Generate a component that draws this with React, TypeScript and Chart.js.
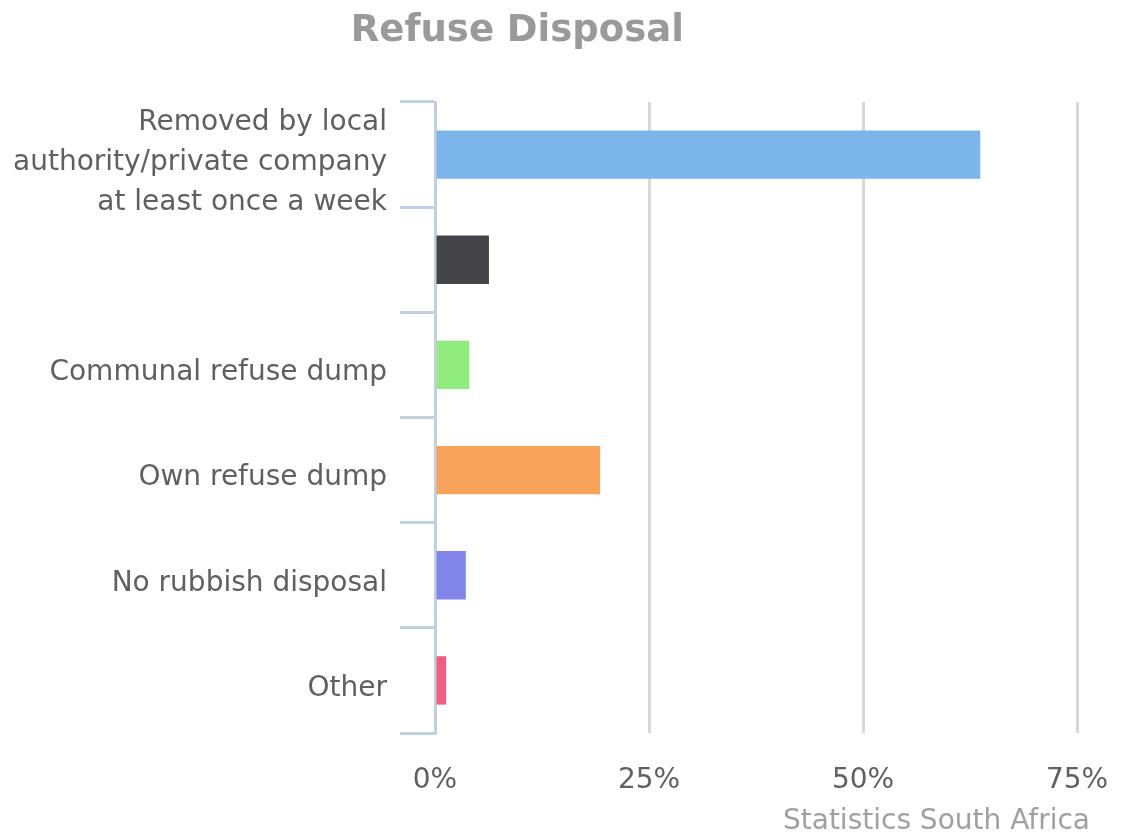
import React, { useEffect, useRef } from "react";
import { Chart, registerables } from "chart.js";

Chart.register(...registerables);

const categories: (string | string[])[] = [
  ["Removed by local", "authority/private company", "at least once a week"],
  "",
  "Communal refuse dump",
  "Own refuse dump",
  "No rubbish disposal",
  "Other",
];
const values = [63.7, 6.3, 4.0, 19.3, 3.6, 1.3];
const barColors = ["#7cb5ec", "#434348", "#90ed7d", "#f7a35c", "#8085e9", "#f15c80"];
const xTicks = [0, 25, 50, 75];
const titleText = "Refuse Disposal";
const creditText = "Statistics South Africa";

const FONT = "'DejaVu Sans', Verdana, sans-serif";

const textPlugin = {
  id: "textPlugin",
  afterDraw(chart: any) {
    const ctx = chart.ctx;
    ctx.save();
    ctx.fillStyle = "#9a9a9a";
    ctx.font = `bold 37px ${FONT}`;
    ctx.textAlign = "center";
    ctx.textBaseline = "middle";
    ctx.fillText(titleText, chart.width * 0.4615, 31);
    ctx.font = `28px ${FONT}`;
    ctx.fillStyle = "#a0a0a0";
    ctx.textAlign = "right";
    ctx.fillText(creditText, 1090, 822);
    ctx.restore();
  },
};

export default function App() {
  const ref = useRef<HTMLCanvasElement | null>(null);
  useEffect(() => {
    if (!ref.current) return;
    const chart = new Chart(ref.current, {
      type: "bar",
      data: {
        labels: categories,
        datasets: [
          {
            data: values,
            backgroundColor: barColors,
            borderWidth: 0,
            barPercentage: 0.46,
            categoryPercentage: 1,
          },
        ],
      },
      options: {
        indexAxis: "y",
        animation: false,
        responsive: false,
        maintainAspectRatio: false,
        layout: { padding: { top: 102, right: 44, left: 0, bottom: 0 } },
        plugins: {
          legend: { display: false },
          tooltip: { enabled: false },
          title: { display: false },
        },
        scales: {
          x: {
            min: 0,
            max: 75,
            afterBuildTicks: (s: any) => {
              s.ticks = xTicks.map((v) => ({ value: v }));
            },
            afterFit: (s: any) => {
              s.height = 101;
              s.paddingLeft = 0;
              s.paddingRight = 0;
            },
            grid: {
              color: (c: any) => (c.tick && c.tick.value === 0 ? "rgba(0,0,0,0)" : "#d8d8d8"),
              lineWidth: 3,
              drawTicks: false,
            },
            border: { display: false },
            ticks: {
              padding: 31,
              color: "#606060",
              font: { family: FONT, size: 28 },
              maxRotation: 0,
              callback: (v: any) => `${v}%`,
            },
          },
          y: {
            afterFit: (s: any) => {
              s.width = 435;
            },
            grid: {
              drawOnChartArea: false,
              color: "#c0d0e0",
              lineWidth: 3,
              tickLength: 35,
              offset: true,
            },
            border: { display: true, color: "#c0d0e0", width: 3 },
            ticks: {
              autoSkip: false,
              padding: 13,
              labelOffset: 8,
              color: "#606060",
              font: { family: FONT, size: 28, lineHeight: 1.43 },
            },
          },
        },
      },
      plugins: [textPlugin],
    } as any);
    return () => chart.destroy();
  }, []);
  return (
    <div style={{ position: "absolute", left: 0, top: 0, width: 1121, height: 834 }}>
      <canvas ref={ref} width={1121} height={834} style={{ width: 1121, height: 834 }} />
    </div>
  );
}
